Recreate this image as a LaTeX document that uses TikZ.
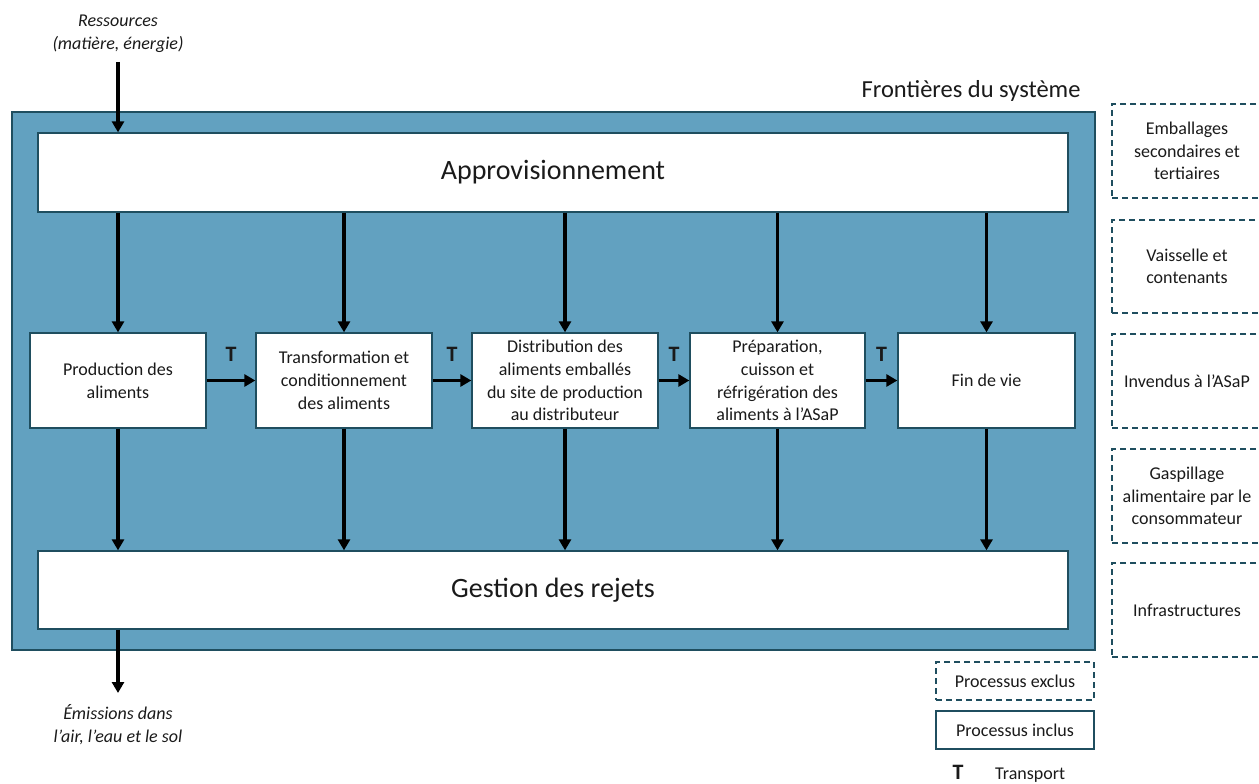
\documentclass[tikz,border=0pt]{standalone}
\usepackage{fontspec}
\setmainfont{Carlito}
\usetikzlibrary{arrows.meta}
\definecolor{sysblue}{HTML}{62A1C0}
\definecolor{teal}{HTML}{1F4E5F}
\definecolor{txt}{HTML}{1A1A1A}
\tikzset{
  x=1pt, y=-1pt,
  every node/.style={text=txt},
  pbox/.style={draw=teal, line width=1.3pt, fill=white, inner sep=0pt, align=center,
    font=\fontsize{18}{22.8}\selectfont},
  bigbox/.style={pbox, font=\fontsize{28}{32}\selectfont},
  exbox/.style={draw=teal, line width=1.3pt, dash pattern=on 6pt off 4pt, inner sep=0pt, align=center,
    font=\fontsize{18}{22.5}\selectfont},
  arr/.style={line width=3.2pt, -{Triangle[length=11pt,width=12pt]}},
  tlab/.style={font=\fontsize{22}{22}\selectfont\bfseries},
  ital/.style={align=center, font=\fontsize{18}{23}\selectfont\itshape},
}
\begin{document}
\begin{tikzpicture}
\useasboundingbox (0,0) rectangle (1259,784);
% system boundary
\node[draw=teal, line width=1.3pt, fill=sysblue, minimum width=1083pt, minimum height=538pt, inner sep=0pt] (sys) at (553.5,381) {};
\node[anchor=base east, font=\fontsize{24.5}{26}\selectfont] (front) at (1084,98) {Frontières du système};
% main boxes
\node[bigbox, minimum width=1030pt, minimum height=79pt] (appro) at (553,172.5) {Approvisionnement};
\node[bigbox, minimum width=1030pt, minimum height=78pt] (gest) at (553,590) {Gestion des rejets};
\node[pbox, minimum width=176pt, minimum height=95pt] (p1) at (118,380.5) {Production des\\aliments};
\node[pbox, minimum width=176pt, minimum height=95pt] (p2) at (344,380.5) {Transformation et\\conditionnement\\des aliments};
\node[pbox, minimum width=186pt, minimum height=95pt] (p3) at (565,380.5) {Distribution des\\aliments emballés\\du site de production\\au distributeur};
\node[pbox, minimum width=175pt, minimum height=95pt] (p4) at (777.5,380.5) {Préparation,\\cuisson et\\réfrigération des\\aliments à l’ASaP};
\node[pbox, minimum width=177pt, minimum height=95pt] (p5) at (986.5,380.5) {Fin de vie};
% vertical arrows
\foreach \p in {p1,p2,p3,p4,p5}{
  \draw[arr] (appro.south -| \p) -- (\p.north);
  \draw[arr] (\p.south) -- (gest.north -| \p);
}
% horizontal arrows with T
\foreach \a/\b in {p1/p2,p2/p3,p3/p4,p4/p5}{
  \draw[arr] (\a.east) -- (\b.west) node[midway, tlab, yshift=26pt] {T};
}
% inputs / outputs
\node[ital] (res) at (118,34) {Ressources\\(matière, énergie)};
\coordinate (resin) at (118,62);
\draw[arr] (resin) -- (appro.north -| p1);
\node[ital] (emi) at (118,725) {Émissions dans\\l’air, l’eau et le sol};
\coordinate (emiout) at (118,693);
\draw[arr] (gest.south -| p1) -- (emiout);
% excluded processes
\node[exbox, minimum width=150pt, minimum height=94pt] (e1) at (1187,151) {Emballages\\secondaires et\\tertiaires};
\node[exbox, minimum width=150pt, minimum height=93pt] (e2) at (1187,266.5) {Vaisselle et\\contenants};
\node[exbox, minimum width=150pt, minimum height=94pt] (e3) at (1187,381) {Invendus à l’ASaP};
\node[exbox, minimum width=150pt, minimum height=94pt] (e4) at (1187,496) {Gaspillage\\alimentaire par le\\consommateur};
\node[exbox, minimum width=150pt, minimum height=94pt] (e5) at (1187,610) {Infrastructures};
% legend
\node[exbox, minimum width=158pt, minimum height=38pt] (lex) at (1015,681) {Processus exclus};
\node[pbox, minimum width=158pt, minimum height=38pt] (lin) at (1015,730) {Processus inclus};
\node[tlab, anchor=base, inner sep=1pt] (lt) at (958,779) {T};
\node[font=\fontsize{18}{22}\selectfont, anchor=base west, inner sep=1pt] (ltr) at (994,779) {Transport};
\end{tikzpicture}
\end{document}
